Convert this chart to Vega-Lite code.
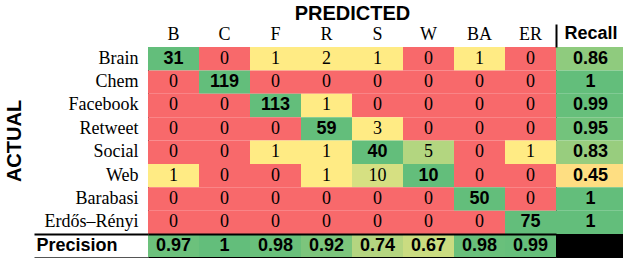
{
  "$schema": "https://vega.github.io/schema/vega-lite/v6.json",
  "background": "white",
  "padding": {"left": 3, "top": 2, "right": 5, "bottom": 5},
  "columns": 2,
  "spacing": 0,
  "align": "each",
  "bounds": "flush",
  "resolve": {"scale": {"color": "independent"}},
  "config": {"view": {"stroke": "black", "strokeWidth": 1}, "concat": {"spacing": 0}},
  "datasets": {
    "cm": [
      {"a": "Brain", "p": "B", "v": 31}, {"a": "Brain", "p": "C", "v": 0}, {"a": "Brain", "p": "F", "v": 1}, {"a": "Brain", "p": "R", "v": 2}, {"a": "Brain", "p": "S", "v": 1}, {"a": "Brain", "p": "W", "v": 0}, {"a": "Brain", "p": "BA", "v": 1}, {"a": "Brain", "p": "ER", "v": 0},
      {"a": "Chem", "p": "B", "v": 0}, {"a": "Chem", "p": "C", "v": 119}, {"a": "Chem", "p": "F", "v": 0}, {"a": "Chem", "p": "R", "v": 0}, {"a": "Chem", "p": "S", "v": 0}, {"a": "Chem", "p": "W", "v": 0}, {"a": "Chem", "p": "BA", "v": 0}, {"a": "Chem", "p": "ER", "v": 0},
      {"a": "Facebook", "p": "B", "v": 0}, {"a": "Facebook", "p": "C", "v": 0}, {"a": "Facebook", "p": "F", "v": 113}, {"a": "Facebook", "p": "R", "v": 1}, {"a": "Facebook", "p": "S", "v": 0}, {"a": "Facebook", "p": "W", "v": 0}, {"a": "Facebook", "p": "BA", "v": 0}, {"a": "Facebook", "p": "ER", "v": 0},
      {"a": "Retweet", "p": "B", "v": 0}, {"a": "Retweet", "p": "C", "v": 0}, {"a": "Retweet", "p": "F", "v": 0}, {"a": "Retweet", "p": "R", "v": 59}, {"a": "Retweet", "p": "S", "v": 3}, {"a": "Retweet", "p": "W", "v": 0}, {"a": "Retweet", "p": "BA", "v": 0}, {"a": "Retweet", "p": "ER", "v": 0},
      {"a": "Social", "p": "B", "v": 0}, {"a": "Social", "p": "C", "v": 0}, {"a": "Social", "p": "F", "v": 1}, {"a": "Social", "p": "R", "v": 1}, {"a": "Social", "p": "S", "v": 40}, {"a": "Social", "p": "W", "v": 5}, {"a": "Social", "p": "BA", "v": 0}, {"a": "Social", "p": "ER", "v": 1},
      {"a": "Web", "p": "B", "v": 1}, {"a": "Web", "p": "C", "v": 0}, {"a": "Web", "p": "F", "v": 0}, {"a": "Web", "p": "R", "v": 1}, {"a": "Web", "p": "S", "v": 10}, {"a": "Web", "p": "W", "v": 10}, {"a": "Web", "p": "BA", "v": 0}, {"a": "Web", "p": "ER", "v": 0},
      {"a": "Barabasi", "p": "B", "v": 0}, {"a": "Barabasi", "p": "C", "v": 0}, {"a": "Barabasi", "p": "F", "v": 0}, {"a": "Barabasi", "p": "R", "v": 0}, {"a": "Barabasi", "p": "S", "v": 0}, {"a": "Barabasi", "p": "W", "v": 0}, {"a": "Barabasi", "p": "BA", "v": 50}, {"a": "Barabasi", "p": "ER", "v": 0},
      {"a": "Erdős–Rényi", "p": "B", "v": 0}, {"a": "Erdős–Rényi", "p": "C", "v": 0}, {"a": "Erdős–Rényi", "p": "F", "v": 0}, {"a": "Erdős–Rényi", "p": "R", "v": 0}, {"a": "Erdős–Rényi", "p": "S", "v": 0}, {"a": "Erdős–Rényi", "p": "W", "v": 0}, {"a": "Erdős–Rényi", "p": "BA", "v": 0}, {"a": "Erdős–Rényi", "p": "ER", "v": 75},
      {"a": "Precision", "p": "B", "v": 0.97}, {"a": "Precision", "p": "C", "v": 1}, {"a": "Precision", "p": "F", "v": 0.98}, {"a": "Precision", "p": "R", "v": 0.92}, {"a": "Precision", "p": "S", "v": 0.74}, {"a": "Precision", "p": "W", "v": 0.67}, {"a": "Precision", "p": "BA", "v": 0.98}, {"a": "Precision", "p": "ER", "v": 0.99},
      {"a": "Brain", "p": "Recall", "v": 0.86}, {"a": "Chem", "p": "Recall", "v": 1}, {"a": "Facebook", "p": "Recall", "v": 0.99}, {"a": "Retweet", "p": "Recall", "v": 0.95}, {"a": "Social", "p": "Recall", "v": 0.83}, {"a": "Web", "p": "Recall", "v": 0.45}, {"a": "Barabasi", "p": "Recall", "v": 1}, {"a": "Erdős–Rényi", "p": "Recall", "v": 1},
      {"a": "Precision", "p": "Recall", "v": null}
    ]
  },
  "concat": [
    {
      "width": 408,
      "height": 187,
      "data": {"name": "cm"},
      "transform": [{"filter": "datum.p !== 'Recall' && datum.a !== 'Precision'"}],
      "encoding": {
        "x": {
          "field": "p", "type": "nominal",
          "sort": ["B", "C", "F", "R", "S", "W", "BA", "ER"],
          "scale": {"paddingInner": 0, "paddingOuter": 0},
          "axis": {
            "orient": "top", "title": "PREDICTED",
            "titleFont": "Liberation Sans", "titleFontWeight": "bold", "titleFontSize": 20, "titleColor": "black", "titlePadding": 2,
            "domain": false, "ticks": false, "grid": false, "labelAngle": 0,
            "labelFont": "Liberation Serif", "labelFontSize": 18, "labelColor": "black", "labelPadding": 4
          }
        },
        "y": {
          "field": "a", "type": "nominal",
          "sort": ["Brain", "Chem", "Facebook", "Retweet", "Social", "Web", "Barabasi", "Erdős–Rényi"],
          "scale": {"paddingInner": 0, "paddingOuter": 0},
          "axis": {
            "orient": "left", "title": "ACTUAL",
            "titleFont": "Liberation Sans", "titleFontWeight": "bold", "titleFontSize": 20, "titleColor": "black", "titlePadding": 20,
            "domain": false, "ticks": false, "grid": false,
            "labelFont": "Liberation Serif", "labelFontSize": 18, "labelColor": "black", "labelPadding": 10, "labelAlign": "right"
          }
        }
      },
      "layer": [
        {
          "mark": {"type": "rect"},
          "encoding": {
            "color": {
              "condition": {"test": "indexof(['Brain','Chem','Facebook','Retweet','Social','Web','Barabasi','Erdős–Rényi'], datum.a) === indexof(['B','C','F','R','S','W','BA','ER'], datum.p)", "value": "#63BE7B"},
              "field": "v", "type": "quantitative",
              "scale": {"domain": [0, 1, 3, 5, 10], "range": ["#F8696B", "#FFEB84", "#FFEB84", "#B3D680", "#D6E082"], "interpolate": "rgb"},
              "legend": null
            }
          }
        },
        {
          "transform": [{"filter": "indexof(['Brain','Chem','Facebook','Retweet','Social','Web','Barabasi','Erdős–Rényi'], datum.a) !== indexof(['B','C','F','R','S','W','BA','ER'], datum.p)"}],
          "mark": {"type": "text", "font": "Liberation Serif", "fontSize": 18, "color": "black", "baseline": "middle"},
          "encoding": {"text": {"field": "v", "type": "quantitative"}}
        },
        {
          "transform": [{"filter": "indexof(['Brain','Chem','Facebook','Retweet','Social','Web','Barabasi','Erdős–Rényi'], datum.a) === indexof(['B','C','F','R','S','W','BA','ER'], datum.p)"}],
          "mark": {"type": "text", "font": "Liberation Sans", "fontWeight": "bold", "fontSize": 18, "color": "black", "baseline": "middle"},
          "encoding": {"text": {"field": "v", "type": "quantitative"}}
        }
      ]
    },
    {
      "width": 69,
      "height": 187,
      "data": {"name": "cm"},
      "transform": [{"filter": "datum.p === 'Recall' && datum.a !== 'Precision'"}],
      "encoding": {
        "x": {
          "field": "p", "type": "nominal",
          "scale": {"paddingInner": 0, "paddingOuter": 0},
          "axis": {
            "orient": "top", "title": null, "domain": false, "ticks": true, "tickBand": "extent", "tickSize": 23, "grid": false,
            "tickColor": {"condition": {"test": "datum.extra", "value": "black"}, "value": "transparent"},
            "tickWidth": 2,
            "labelAngle": 0, "labelPadding": -18, "labelFont": "Liberation Sans", "labelFontWeight": "bold", "labelFontSize": 18, "labelColor": "black"
          }
        },
        "y": {
          "field": "a", "type": "nominal",
          "sort": ["Brain", "Chem", "Facebook", "Retweet", "Social", "Web", "Barabasi", "Erdős–Rényi"],
          "scale": {"paddingInner": 0, "paddingOuter": 0},
          "axis": null
        }
      },
      "layer": [
        {
          "mark": {"type": "rect"},
          "encoding": {
            "color": {
              "field": "v", "type": "quantitative",
              "scale": {"domain": [0, 0.5, 1], "range": ["#F8696B", "#FFEB84", "#63BE7B"], "interpolate": "rgb"},
              "legend": null
            }
          }
        },
        {
          "mark": {"type": "text", "font": "Liberation Sans", "fontWeight": "bold", "fontSize": 18, "color": "black", "baseline": "middle"},
          "encoding": {"text": {"field": "v", "type": "quantitative"}}
        }
      ]
    },
    {
      "width": 408,
      "height": 23,
      "data": {"name": "cm"},
      "transform": [{"filter": "datum.p !== 'Recall' && datum.a === 'Precision'"}],
      "encoding": {
        "x": {
          "field": "p", "type": "nominal",
          "sort": ["B", "C", "F", "R", "S", "W", "BA", "ER"],
          "scale": {"paddingInner": 0, "paddingOuter": 0},
          "axis": null
        },
        "y": {
          "field": "a", "type": "nominal",
          "scale": {"paddingInner": 0, "paddingOuter": 0},
          "axis": {
            "orient": "left", "title": null,
            "domain": false, "ticks": true, "tickBand": "extent", "tickSize": 114, "zindex": 1,
            "tickColor": {"condition": {"test": "datum.extra", "value": "black"}, "value": "#555"},
            "tickWidth": {"condition": {"test": "datum.extra", "value": 2}, "value": 1},
            "grid": true,
            "gridColor": {"condition": {"test": "datum.extra", "value": "black"}, "value": "transparent"},
            "gridWidth": 2,
            "labelFont": "Liberation Sans", "labelFontWeight": "bold", "labelFontSize": 18, "labelColor": "black",
            "labelAlign": "left", "labelPadding": -2
          }
        }
      },
      "layer": [
        {
          "mark": {"type": "rect"},
          "encoding": {
            "color": {
              "field": "v", "type": "quantitative",
              "scale": {"domain": [0, 0.5, 1], "range": ["#F8696B", "#FFEB84", "#63BE7B"], "interpolate": "rgb"},
              "legend": null
            }
          }
        },
        {
          "mark": {"type": "text", "font": "Liberation Sans", "fontWeight": "bold", "fontSize": 18, "color": "black", "baseline": "middle"},
          "encoding": {"text": {"field": "v", "type": "quantitative"}}
        }
      ]
    },
    {
      "width": 69,
      "height": 23,
      "data": {"name": "cm"},
      "transform": [{"filter": "datum.p === 'Recall' && datum.a === 'Precision'"}],
      "mark": {"type": "rect", "color": "black"},
      "encoding": {
        "x": {"field": "p", "type": "nominal", "scale": {"paddingInner": 0, "paddingOuter": 0}, "axis": null},
        "y": {"field": "a", "type": "nominal", "scale": {"paddingInner": 0, "paddingOuter": 0}, "axis": null}
      }
    }
  ]
}
